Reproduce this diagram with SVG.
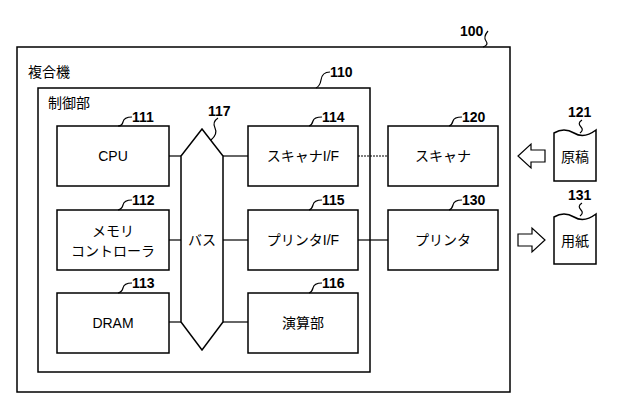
<svg xmlns="http://www.w3.org/2000/svg" width="622" height="409" viewBox="0 0 622 409">
<style>
.b{fill:#fff;stroke:#000;stroke-width:1.5}
.l{fill:none;stroke:#000;stroke-width:1.2}
.t{font-family:"Liberation Sans","Noto Sans CJK JP",sans-serif;font-size:14px;fill:#000}
.c{text-anchor:middle}
.n{font-family:"Liberation Sans",sans-serif;font-size:14px;font-weight:bold;fill:#000}
</style>
<rect width="622" height="409" fill="#fff"/>
<g id="n100"><rect class="b" x="17" y="47" width="493" height="345"/><text class="t" x="28" y="77">複合機</text><text class="n" x="460" y="36">100</text><path class="l" d="M488 31 q-5 6 -2 10 q3 4 -3 6"/></g>
<g id="n110"><rect class="b" x="38" y="88" width="332" height="284"/><text class="t" x="48" y="108">制御部</text><text class="n" x="330" y="77">110</text><path class="l" d="M330 72 q-8 0 -9 8 q-1 6 -5 8"/></g>
<g id="connectors">
<line class="l" x1="169" y1="156" x2="181" y2="156"/>
<line class="l" x1="169" y1="240" x2="181" y2="240"/>
<line class="l" x1="169" y1="322" x2="181" y2="322"/>
<line class="l" x1="223" y1="156" x2="248" y2="156"/>
<line class="l" x1="223" y1="240" x2="248" y2="240"/>
<line class="l" x1="223" y1="322" x2="248" y2="322"/>
<line class="l" x1="358" y1="156" x2="388" y2="156" stroke-dasharray="2,1"/>
<line class="l" x1="358" y1="240" x2="388" y2="240"/>
<path class="l" d="M545 150 H531 V144 L518 156 L531 168 V162 H545 Z"/>
<path class="l" d="M518 234 H532 V228 L545 240 L532 252 V246 H518 Z"/>
</g>
<g id="n117"><path class="b" d="M202 129 L223 156 V322 L202 350 L181 322 V156 Z"/><text class="t c" x="202" y="245">バス</text><text class="n" x="208" y="116">117</text><path class="l" d="M218 118 q-6 4 -3 10 q3 6 -4 12"/></g>
<g id="n111"><rect class="b" x="57" y="126" width="112" height="60"/><text class="t c" x="113" y="161">CPU</text><text class="n" x="132" y="122">111</text><path class="l" d="M132 117 q-8 0 -9 5 q-1 4 -5 4"/></g>
<g id="n112"><rect class="b" x="57" y="210" width="112" height="60"/><text class="t c" x="113" y="236">メモリ</text><text class="t c" x="113" y="256">コントローラ</text><text class="n" x="132" y="205">112</text><path class="l" d="M132 200 q-8 0 -9 5 q-1 4 -5 5"/></g>
<g id="n113"><rect class="b" x="57" y="293" width="112" height="60"/><text class="t c" x="113" y="328">DRAM</text><text class="n" x="132" y="288">113</text><path class="l" d="M132 283 q-8 0 -9 5 q-1 4 -5 5"/></g>
<g id="n114"><rect class="b" x="248" y="126" width="110" height="60"/><text class="t c" x="303" y="161">スキャナI/F</text><text class="n" x="322" y="122">114</text><path class="l" d="M322 117 q-8 0 -9 4 q-1 4 -4 5"/></g>
<g id="n115"><rect class="b" x="248" y="210" width="110" height="60"/><text class="t c" x="303" y="245">プリンタI/F</text><text class="n" x="322" y="205">115</text><path class="l" d="M322 200 q-8 0 -9 5 q-1 4 -4 5"/></g>
<g id="n116"><rect class="b" x="248" y="293" width="110" height="60"/><text class="t c" x="303" y="328">演算部</text><text class="n" x="322" y="288">116</text><path class="l" d="M322 283 q-8 0 -9 5 q-1 4 -4 5"/></g>
<g id="n120"><rect class="b" x="388" y="126" width="110" height="60"/><text class="t c" x="443" y="161">スキャナ</text><text class="n" x="462" y="122">120</text><path class="l" d="M462 117 q-8 0 -9 4 q-1 4 -4 5"/></g>
<g id="n130"><rect class="b" x="388" y="210" width="110" height="60"/><text class="t c" x="443" y="245">プリンタ</text><text class="n" x="462" y="205">130</text><path class="l" d="M462 200 q-8 0 -9 5 q-1 4 -4 5"/></g>
<g id="n121"><path class="b" d="M554 133 q10 -6 20 0 q10 6 22 -3 V181 H554 Z"/><text class="t c" x="575" y="162">原稿</text><text class="n" x="568" y="117">121</text><path class="l" d="M582 120 q-5 3 -1 7 q3 3 -1 6"/></g>
<g id="n131"><path class="b" d="M554 217 q10 -6 20 0 q10 6 22 -3 V264 H554 Z"/><text class="t c" x="575" y="246">用紙</text><text class="n" x="568" y="200">131</text><path class="l" d="M582 203 q-5 3 -1 7 q3 3 -1 6"/></g>
</svg>
